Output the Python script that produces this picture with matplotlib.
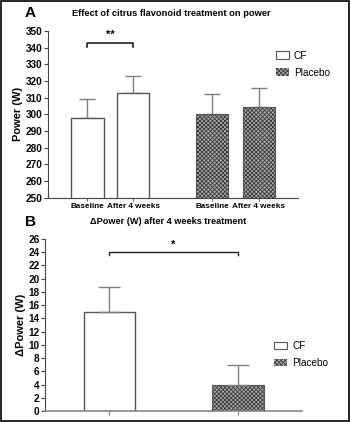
import matplotlib.pyplot as plt
from matplotlib.patches import Patch, Rectangle

plt.rcParams['font.family'] = ['Liberation Sans', 'DejaVu Sans']
plt.rcParams['hatch.linewidth'] = 0.6

# panel A data
labels_a = ["Baseline", "After 4 weeks", "Baseline", "After 4 weeks"]
power_cf = [298, 313]
power_cf_err = [11, 10]
power_pl = [300, 304.5]
power_pl_err = [12, 11.5]

# panel B data
groups_b = ["CF", "Placebo"]
delta_power = [15, 3.9]
delta_err = [3.7, 3.1]

edge = '#555555'
errc = '#808080'
pl_face = '#ababab'
pl_hatch = '#383838'
hatch = 'xxxxxxxx'

fig = plt.figure(figsize=(3.5, 4.22), dpi=100)
fig.patches.append(Rectangle((0.003, 0.003), 0.994, 0.994, transform=fig.transFigure,
                             fill=False, edgecolor='black', linewidth=1.2))

# ---------- A ----------
ax = fig.add_axes([0.137, 0.531, 0.714, 0.396])
pos_cf = [1, 2]
pos_pl = [3.71, 4.73]
w = 0.7
ax.bar(pos_cf, power_cf, w, color='white', edgecolor=edge, linewidth=1, zorder=2)
ax.bar(pos_pl, power_pl, w, color=pl_face, edgecolor=pl_hatch, hatch=hatch, linewidth=0, zorder=2)
ax.bar(pos_pl, power_pl, w, color='none', edgecolor=edge, linewidth=0.8, zorder=3)
ax.errorbar(pos_cf, power_cf, yerr=[[0, 0], power_cf_err], fmt='none', ecolor=errc,
            elinewidth=1, capsize=6, capthick=1, zorder=1)
ax.errorbar(pos_pl, power_pl, yerr=[[0, 0], power_pl_err], fmt='none', ecolor=errc,
            elinewidth=1, capsize=6, capthick=1, zorder=1)
ax.set_ylim(250, 350)
ax.set_xlim(0.14, 5.58)
ax.set_yticks(range(250, 351, 10))
ax.set_xticks(pos_cf + pos_pl)
ax.set_xticklabels(labels_a, fontsize=5.9, fontweight='bold')
ax.tick_params(axis='x', length=2, width=0.8, color='#666666', pad=2)
ax.tick_params(axis='y', length=3, width=0.8, color='#444444', labelsize=7.2, pad=1)
for t in ax.get_yticklabels():
    t.set_fontweight('bold')
ax.spines['top'].set_visible(False)
ax.spines['right'].set_visible(False)
for s in ['left', 'bottom']:
    ax.spines[s].set_color('#444444')
    ax.spines[s].set_linewidth(0.8)
ax.set_ylabel("Power (W)", fontsize=8, fontweight='bold', labelpad=2)
ax.plot([1, 1, 2, 2], [340.5, 343, 343, 340.5], color='#222222', linewidth=1.2, clip_on=False)
ax.text(1.5, 344.5, "**", ha='center', va='bottom', fontsize=8, fontweight='bold')
ax.legend(handles=[Patch(facecolor='white', edgecolor=edge, linewidth=0.8, label='CF'),
                   Patch(facecolor=pl_face, edgecolor=pl_hatch, hatch=hatch, linewidth=0, label='Placebo')],
          loc='upper left', bbox_to_anchor=(0.896, 0.905), frameon=False, fontsize=7.2,
          handlelength=1.3, handleheight=0.8, handletextpad=0.5, labelspacing=0.7, borderaxespad=0)
fig.text(0.087, 0.969, "A", fontsize=11, fontweight='bold', ha='center', va='center')
fig.text(0.49, 0.969, "Effect of citrus flavonoid treatment on power", fontsize=6.7,
         fontweight='bold', ha='center', va='center')

# ---------- B ----------
bx = fig.add_axes([0.129, 0.026, 0.734, 0.408])
pos_b = [0, 1]
wb = 0.4
bx.bar(pos_b[0], delta_power[0], wb, color='white', edgecolor=edge, linewidth=1, zorder=2)
bx.bar(pos_b[1], delta_power[1], wb, color=pl_face, edgecolor=pl_hatch, hatch=hatch, linewidth=0, zorder=2)
bx.bar(pos_b[1], delta_power[1], wb, color='none', edgecolor=edge, linewidth=0.8, zorder=3)
bx.errorbar(pos_b, delta_power, yerr=[[0, 0], delta_err], fmt='none', ecolor=errc,
            elinewidth=1, capsize=8, capthick=1, zorder=4)
bx.set_ylim(0, 26)
bx.set_xlim(-0.5, 1.5)
bx.set_yticks(range(0, 27, 2))
bx.set_xticks(pos_b)
bx.set_xticklabels(["", ""])
bx.tick_params(axis='x', length=3, width=0.8, color=errc)
bx.tick_params(axis='y', length=3, width=0.8, color='#444444', labelsize=7.2, pad=1)
for t in bx.get_yticklabels():
    t.set_fontweight('bold')
bx.spines['top'].set_visible(False)
bx.spines['right'].set_visible(False)
bx.spines['left'].set_color('#444444')
bx.spines['bottom'].set_color('#888888')
bx.spines['left'].set_linewidth(0.8)
bx.spines['bottom'].set_linewidth(1.2)
bx.set_ylabel("ΔPower (W)", fontsize=8, fontweight='bold', labelpad=2)
bx.plot([0, 0, 1, 1], [23.5, 24, 24, 23.5], color='#222222', linewidth=1, clip_on=False)
bx.text(0.5, 24.3, "*", ha='center', va='bottom', fontsize=8, fontweight='bold')
bx.legend(handles=[Patch(facecolor='white', edgecolor=edge, linewidth=0.8, label='CF'),
                   Patch(facecolor=pl_face, edgecolor=pl_hatch, hatch=hatch, linewidth=0, label='Placebo')],
          loc='upper left', bbox_to_anchor=(0.877, 0.43), frameon=False, fontsize=7.2,
          handlelength=1.3, handleheight=0.8, handletextpad=0.5, labelspacing=0.7, borderaxespad=0)
fig.text(0.087, 0.474, "B", fontsize=11, fontweight='bold', ha='center', va='center')
fig.text(0.48, 0.474, "ΔPower (W) after 4 weeks treatment", fontsize=6.6,
         fontweight='bold', ha='center', va='center')

fig.savefig("out.png", dpi=100)
